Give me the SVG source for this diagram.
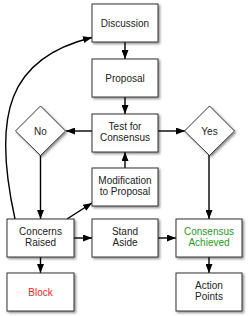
<svg xmlns="http://www.w3.org/2000/svg" width="250" height="316" viewBox="0 0 250 316">
<defs>
<filter id="sh" x="-20%" y="-20%" width="150%" height="150%">
<feDropShadow dx="1.5" dy="1.5" stdDeviation="1.2" flood-color="#000" flood-opacity="0.45"/>
</filter>
<marker id="ah" markerWidth="9" markerHeight="7" refX="9" refY="3.5" orient="auto" markerUnits="userSpaceOnUse">
<path d="M0,0 L9,3.5 L0,7 Z" fill="#000"/>
</marker>
<style>
.n{fill:#fff;stroke:#333;stroke-width:1;filter:url(#sh)}
.t{font-family:"Liberation Sans",Arial,sans-serif;font-size:10px;fill:#222;text-anchor:middle}
.c{fill:none;stroke:#000;stroke-width:1.4;marker-end:url(#ah)}
</style>
</defs>
<g id="connectors">
<line class="c" x1="125" y1="42" x2="125" y2="59"/>
<line class="c" x1="125" y1="97" x2="125" y2="114"/>
<line class="c" x1="92" y1="131" x2="66" y2="131"/>
<line class="c" x1="158" y1="131" x2="185" y2="131"/>
<line class="c" x1="40.5" y1="155" x2="40.5" y2="219"/>
<line class="c" x1="209" y1="155" x2="209" y2="219"/>
<line class="c" x1="125" y1="168" x2="125" y2="152"/>
<line class="c" x1="67" y1="219" x2="92" y2="203"/>
<line class="c" x1="74" y1="238" x2="92" y2="238"/>
<line class="c" x1="158" y1="238" x2="176" y2="238"/>
<line class="c" x1="40.5" y1="257" x2="40.5" y2="273"/>
<line class="c" x1="209" y1="257" x2="209" y2="273"/>
<path class="c" d="M15,219 C-8,115 8,58 92,37.5"/>
</g>
<g id="discussion"><rect class="n" x="92" y="4" width="66" height="38"/><text class="t" x="125" y="26.5">Discussion</text></g>
<g id="proposal"><rect class="n" x="92" y="59" width="66" height="38"/><text class="t" x="125" y="81.5">Proposal</text></g>
<g id="test"><rect class="n" x="92" y="114" width="66" height="38"/><text class="t" x="125" y="130">Test for</text><text class="t" x="125" y="141">Consensus</text></g>
<g id="no"><polygon class="n" points="40.5,106 65.5,131 40.5,155.5 15.5,131"/><text class="t" x="40.5" y="134.5">No</text></g>
<g id="yes"><polygon class="n" points="209.5,106 234.5,131 209.5,155.5 184.5,131"/><text class="t" x="209.5" y="134.5">Yes</text></g>
<g id="modification"><rect class="n" x="92" y="168" width="66" height="38"/><text class="t" x="125" y="184">Modification</text><text class="t" x="125" y="195">to Proposal</text></g>
<g id="concerns"><rect class="n" x="7" y="219" width="67" height="38"/><text class="t" x="40.5" y="235">Concerns</text><text class="t" x="40.5" y="246">Raised</text></g>
<g id="stand"><rect class="n" x="92" y="219" width="66" height="38"/><text class="t" x="125" y="235">Stand</text><text class="t" x="125" y="246">Aside</text></g>
<g id="achieved"><rect class="n" x="176" y="219" width="66" height="38"/><text class="t" x="209" y="235" style="fill:#2a9a2a">Consensus</text><text class="t" x="209" y="246" style="fill:#2a9a2a">Achieved</text></g>
<g id="block"><rect class="n" x="7" y="273" width="67" height="38"/><text class="t" x="40.5" y="295.5" style="fill:#f22">Block</text></g>
<g id="action"><rect class="n" x="176" y="273" width="66" height="38"/><text class="t" x="209" y="289">Action</text><text class="t" x="209" y="300">Points</text></g>
</svg>
